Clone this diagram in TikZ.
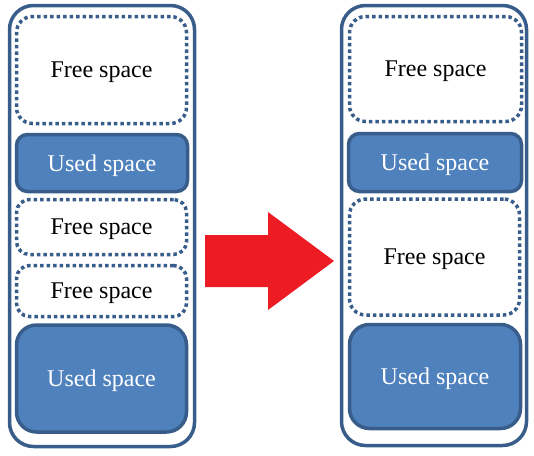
\documentclass[tikz,border=0pt]{standalone}
\usepackage{fontspec}
\setmainfont{Liberation Serif}
\usepackage{tikz}
\usepackage{xcolor}
\definecolor{memline}{HTML}{385D8A}
\definecolor{memfill}{HTML}{4F81BD}
\definecolor{arrowred}{HTML}{ED1C24}

\begin{document}
\begin{tikzpicture}[x=1pt, y=-1pt,
    every node/.style={font=\fontsize{24}{28}\selectfont, inner sep=0pt, text depth=0pt},
    column/.style={draw=memline, line width=3.5pt, rounded corners=24pt, minimum width=185pt},
    freebox/.style={draw=memline, line width=3.5pt, dash pattern=on 3.5pt off 3pt, rounded corners=13pt},
    usedbox/.style={draw=memline, fill=memfill, line width=3.5pt, rounded corners=11pt, text=white}]
    \useasboundingbox (0,0) rectangle (534,455);

    % Left column (before)
    \node[column, minimum height=441pt] (colL) at (102,226) {};
    \node[freebox, minimum width=170pt, minimum height=107pt, rounded corners=16pt] (freeL1) at (101.5,70) {Free space};
    \node[usedbox, minimum width=171pt, minimum height=57pt] (usedL1) at (102,163) {Used space};
    \node[freebox, minimum width=170pt, minimum height=55pt] (freeL2) at (101.5,227) {Free space};
    \node[freebox, minimum width=170pt, minimum height=51pt] (freeL3) at (101.5,291) {Free space};
    \node[usedbox, minimum width=170pt, minimum height=107pt, rounded corners=20pt] (usedL2) at (101.5,378.5) {Used space};

    % Right column (after)
    \node[column, minimum height=440pt] (colR) at (434,225.5) {};
    \node[freebox, minimum width=172pt, minimum height=105pt, rounded corners=16pt] (freeR1) at (435.5,69) {Free space};
    \node[usedbox, minimum width=173pt, minimum height=58pt] (usedR1) at (435,162.5) {Used space};
    \node[freebox, minimum width=170pt, minimum height=116pt, rounded corners=16pt] (freeR2) at (434.5,257) {Free space};
    \node[usedbox, minimum width=171pt, minimum height=104pt, rounded corners=20pt] (usedR2) at (435,376.5) {Used space};

    % Arrow
    \coordinate (tip) at (334,261);
    \fill[arrowred] (205,235) -- (268,235) -- (268,212) -- (tip) -- (268,310) -- (268,287) -- (205,287) -- cycle;
\end{tikzpicture}
\end{document}
